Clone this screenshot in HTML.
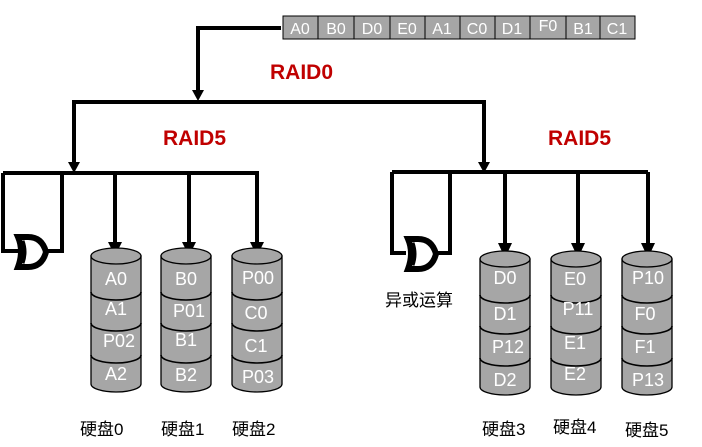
<!DOCTYPE html>
<html><head><meta charset="utf-8"><style>
html,body{margin:0;padding:0;background:#fff;}
svg{display:block;}
text{font-family:"Liberation Sans","Noto Sans CJK SC",sans-serif;}
.w{fill:#fff;font-size:18px;}
.r{fill:#c00000;font-size:21px;font-weight:bold;}
.l{fill:#000;font-size:17px;}
</style></head><body>
<svg width="702" height="447" viewBox="0 0 702 447" xmlns="http://www.w3.org/2000/svg">
<defs>
<g id="cyl">
<path d="M0,0 L0,128 A25,8 0 0 0 50,128 L50,0 Z" fill="#a6a6a6" stroke="#000" stroke-width="1.3"/>
<ellipse cx="25" cy="0" rx="25" ry="8" fill="#a6a6a6" stroke="#000" stroke-width="1.3"/>
<path d="M0,36 A25,8 0 0 0 50,36 M0,67 A25,8 0 0 0 50,67 M0,99 A25,8 0 0 0 50,99" fill="none" stroke="#000" stroke-width="1.6"/>
</g>
<g id="gate">
<path d="M4,2 Q10,16 4,32 L14,32 Q28,32 32,17 Q28,2 14,2 Z" fill="#fff" stroke="#000" stroke-width="6"/>
<path d="M8,6 Q12,17 8,28" fill="none" stroke="#000" stroke-width="5"/>
</g>
</defs>

<g stroke="#000" stroke-width="1" fill="#a6a6a6">
<rect x="283" y="16" width="352" height="23"/>
</g>
<g stroke="#000" stroke-width="1">
<line x1="318" y1="16" x2="318" y2="39"/><line x1="354" y1="16" x2="354" y2="39"/><line x1="390" y1="16" x2="390" y2="39"/><line x1="425" y1="16" x2="425" y2="39"/><line x1="460" y1="16" x2="460" y2="39"/><line x1="495" y1="16" x2="495" y2="39"/><line x1="530" y1="16" x2="530" y2="39"/><line x1="566" y1="16" x2="566" y2="39"/><line x1="600" y1="16" x2="600" y2="39"/>
</g>
<g class="w" style="font-size:16px" text-anchor="middle">
<text x="300" y="34">A0</text><text x="336" y="34">B0</text><text x="372" y="34">D0</text><text x="407" y="34">E0</text><text x="442" y="34">A1</text><text x="477" y="34">C0</text><text x="512" y="34">D1</text><text x="548" y="31">F0</text><text x="583" y="34">B1</text><text x="617" y="34">C1</text>
</g>

<g fill="none" stroke="#000" stroke-width="4">
<polyline points="281,28 198,28 198,92"/>
<polyline points="74,164 74,102 484,102 484,164"/>
<line x1="3" y1="173" x2="259" y2="173"/>
<polyline points="3,173 3,251 18,251"/>
<polyline points="62,173 62,251 48,251"/>
<line x1="115" y1="173" x2="115" y2="244"/>
<line x1="189" y1="173" x2="189" y2="244"/>
<line x1="257" y1="173" x2="257" y2="244"/>
<line x1="392" y1="172" x2="648" y2="172"/>
<polyline points="392,172 392,253 406,253"/>
<polyline points="450,172 450,253 437,253"/>
<line x1="505" y1="172" x2="505" y2="245"/>
<line x1="578" y1="172" x2="578" y2="245"/>
<line x1="648" y1="172" x2="648" y2="245"/>
</g>
<g fill="#000">
<path d="M192,90 L204,90 L198,101 Z"/>
<path d="M68,162 L80,162 L74,173 Z"/>
<path d="M478,162 L490,162 L484,173 Z"/>
<path d="M108,242 L122,242 L115,256 Z"/>
<path d="M182,242 L196,242 L189,256 Z"/>
<path d="M250,242 L264,242 L257,256 Z"/>
<path d="M498,243 L512,243 L505,258 Z"/>
<path d="M571,243 L585,243 L578,258 Z"/>
<path d="M641,243 L655,243 L648,258 Z"/>
</g>

<use href="#gate" x="14" y="235"/>
<use href="#gate" x="404" y="237"/>

<text class="r" x="270" y="79">RAID0</text>
<text class="r" x="163" y="145">RAID5</text>
<text class="r" x="548" y="145">RAID5</text>

<use href="#cyl" x="91" y="256"/>
<use href="#cyl" x="161" y="256"/>
<use href="#cyl" x="232" y="256"/>
<use href="#cyl" x="480" y="259"/>
<use href="#cyl" x="551" y="259"/>
<use href="#cyl" x="622" y="259"/>

<g class="w" text-anchor="middle">
<text x="116" y="285">A0</text><text x="116" y="315">A1</text><text x="119" y="347">P02</text><text x="116" y="380">A2</text>
<text x="186" y="285">B0</text><text x="189" y="317">P01</text><text x="186" y="346">B1</text><text x="186" y="381">B2</text>
<text x="258" y="284">P00</text><text x="256" y="319">C0</text><text x="256" y="352">C1</text><text x="258" y="383">P03</text>
<text x="505" y="284">D0</text><text x="505" y="320">D1</text><text x="508" y="353">P12</text><text x="505" y="386">D2</text>
<text x="575" y="285">E0</text><text x="578" y="315">P11</text><text x="575" y="349">E1</text><text x="575" y="380">E2</text>
<text x="648" y="284">P10</text><text x="645" y="320">F0</text><text x="645" y="353">F1</text><text x="648" y="386">P13</text>
</g>

<g class="l">
<text x="80" y="435">硬盘0</text>
<text x="161" y="435">硬盘1</text>
<text x="232" y="435">硬盘2</text>
<text x="482" y="435">硬盘3</text>
<text x="553" y="433">硬盘4</text>
<text x="625" y="436">硬盘5</text>
<text x="385" y="306">异或运算</text>
</g>
</svg>
</body></html>
